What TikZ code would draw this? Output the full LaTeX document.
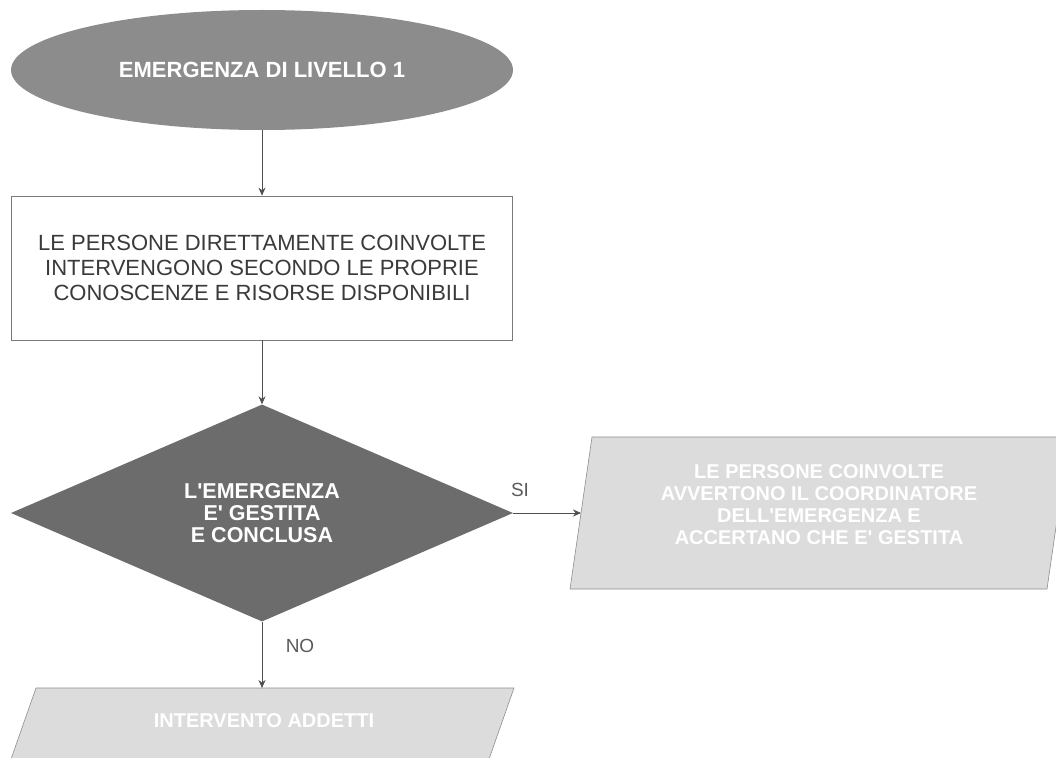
\documentclass[tikz,border=0pt]{standalone}
\usepackage{fontspec}
\setmainfont{Liberation Sans}
\usetikzlibrary{shapes.geometric,arrows.meta}
\definecolor{ellgray}{HTML}{8C8C8C}
\definecolor{diagray}{HTML}{6C6C6C}
\definecolor{parfill}{HTML}{DCDCDC}
\definecolor{parline}{HTML}{8E8E8E}
\definecolor{boxline}{HTML}{7A7A7A}
\definecolor{txtdark}{HTML}{3A3A3A}
\definecolor{lblgray}{HTML}{5A5A5A}
\definecolor{linegray}{HTML}{505050}
\begin{document}
\begin{tikzpicture}[x=1pt,y=-1pt,
  startnode/.style={ellipse, fill=ellgray, draw=none, inner sep=0pt,
    minimum width=502pt, minimum height=120pt, text=white,
    font=\fontsize{22}{24}\selectfont\bfseries, align=center},
  procbox/.style={rectangle, draw=boxline, line width=0.7pt, fill=white,
    minimum width=501pt, minimum height=144pt, inner sep=0pt, text=txtdark,
    font=\fontsize{22}{25}\selectfont, align=center},
  decision/.style={diamond, fill=diagray, draw=none, inner sep=0pt,
    minimum width=502pt, minimum height=217pt, text=white,
    font=\fontsize{21.5}{22}\selectfont\bfseries, align=center},
  partext/.style={text=white, font=\fontsize{20}{22}\selectfont\bfseries, align=center, inner sep=0pt},
  parshape/.style={fill=parfill, draw=parline, line width=0.6pt},
  flow/.style={draw=linegray, line width=0.7pt, -{Stealth[length=8pt,width=7pt]}},
  lbl/.style={text=lblgray, font=\fontsize{19}{21}\selectfont, inner sep=0pt}
]
\path[use as bounding box] (0,0) rectangle (1056,757);

% start ellipse
\node[startnode] (start) at (262,70) {EMERGENZA DI LIVELLO 1};

% process box
\node[procbox] (proc) at (262,268) {LE PERSONE DIRETTAMENTE COINVOLTE\\INTERVENGONO SECONDO LE PROPRIE\\CONOSCENZE E RISORSE DISPONIBILI};

% decision
\node[decision] (dec) at (262,513) {L\textquotesingle EMERGENZA\\E\textquotesingle{} GESTITA\\E CONCLUSA};

% right parallelogram (yes)
\path[parshape] (592,437) -- (1069,437) -- (1047,589) -- (570,589) -- cycle;
\coordinate (yesin) at (581,513);
\node[partext] (yes) at (819,505) {LE PERSONE COINVOLTE\\AVVERTONO IL COORDINATORE\\DELL\textquotesingle EMERGENZA E\\ACCERTANO CHE E\textquotesingle{} GESTITA};

% bottom parallelogram (no)
\path[parshape] (36,688) -- (514,688) -- (488,762) -- (10,762) -- cycle;
\coordinate (noin) at (262,688);
\node[partext] (no) at (264,721) {INTERVENTO ADDETTI};

% connectors
\draw[flow] (start.south) -- (proc.north);
\draw[flow] (proc.south) -- (dec.north);
\draw[flow] (dec.east) -- (yesin);
\draw[flow] (dec.south) -- (noin);

% labels
\node[lbl] (si) at (520,490) {SI};
\node[lbl] (nolbl) at (300,646) {NO};
\end{tikzpicture}
\end{document}
